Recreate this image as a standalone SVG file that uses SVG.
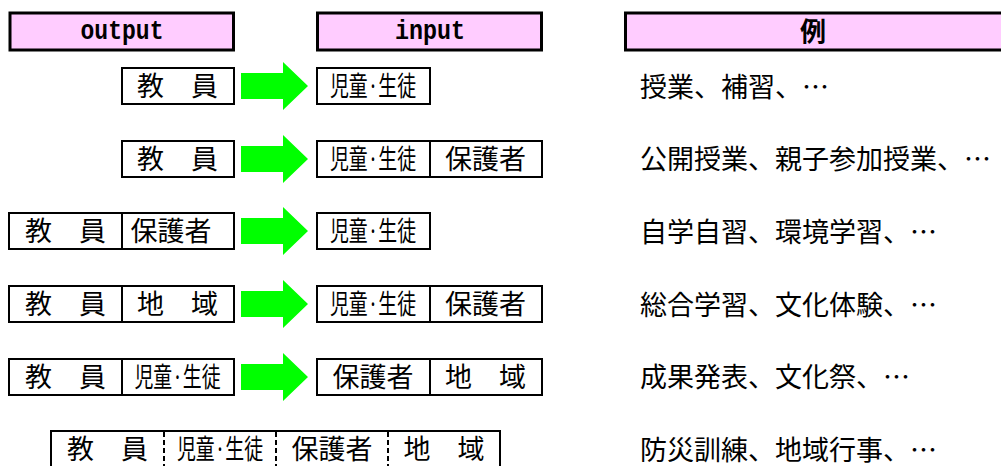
<svg xmlns="http://www.w3.org/2000/svg" xmlns:xlink="http://www.w3.org/1999/xlink" width="1001" height="466" viewBox="0 0 1001 466">
<style>
.hdr{fill:#ffccff;stroke:#000;stroke-width:3}
.box{fill:#fff;stroke:#000;stroke-width:2}
.dv{stroke:#000;stroke-width:2}
.dash{stroke:#000;stroke-width:2;stroke-dasharray:5 3}
.arr{fill:#00ff00}
.t{font-family:"Noto Sans CJK JP","Noto Sans CJK SC",sans-serif;font-size:27px;fill:#000}
.c{text-anchor:middle}
.h{font-family:"Liberation Mono","DejaVu Sans Mono",monospace;font-weight:bold;font-size:27px;text-anchor:middle;fill:#000}
.hb{font-family:"Noto Sans CJK JP",sans-serif;font-weight:bold;font-size:26px;text-anchor:middle;fill:#000}
</style>
<defs>
<path id="arrow" class="arr" d="M241,-13H283V-24L308,0L283,24V13H241Z"/>
</defs>
<rect width="1001" height="466" fill="#fff"/>

<g id="header-output"><rect class="hdr" x="10" y="13" width="223.5" height="37"/><text class="h" x="122" y="39" textLength="83" lengthAdjust="spacingAndGlyphs">output</text></g>
<g id="header-input"><rect class="hdr" x="317.5" y="13" width="224" height="37"/><text class="h" x="430" y="39" textLength="70" lengthAdjust="spacingAndGlyphs">input</text></g>
<g id="header-example"><rect class="hdr" x="625.5" y="13" width="380" height="37"/><text class="hb" x="813" y="41">例</text></g>

<g id="connectors">
<use xlink:href="#arrow" href="#arrow" y="86"/>
<use xlink:href="#arrow" href="#arrow" y="159"/>
<use xlink:href="#arrow" href="#arrow" y="231"/>
<use xlink:href="#arrow" href="#arrow" y="304"/>
<use xlink:href="#arrow" href="#arrow" y="377"/>
</g>

<!-- Row 1 -->
<g id="r1-out"><rect class="box" x="122" y="68" width="112" height="36"/><text class="t c" x="177.5" y="96">教　員</text></g>
<g id="r1-in"><rect class="box" x="317" y="68" width="113" height="36"/><text class="t c" transform="translate(373,96) scale(0.7,1)">児童·生徒</text></g>
<g id="r1-ex"><text class="t" x="640" y="97">授業、補習、…</text></g>

<!-- Row 2 -->
<g id="r2-out"><rect class="box" x="122" y="141" width="112" height="36"/><text class="t c" x="177.5" y="169">教　員</text></g>
<g id="r2-in"><rect class="box" x="317" y="141" width="225" height="36"/><line class="dv" x1="430" y1="141" x2="430" y2="177"/><text class="t c" transform="translate(373,169) scale(0.7,1)">児童·生徒</text><text class="t c" x="485.5" y="169">保護者</text></g>
<g id="r2-ex"><text class="t" x="640" y="169">公開授業、親子参加授業、…</text></g>

<!-- Row 3 -->
<g id="r3-out"><rect class="box" x="9" y="213" width="225" height="36"/><line class="dv" x1="122" y1="213" x2="122" y2="249"/><text class="t c" x="65.5" y="241">教　員</text><text class="t c" x="171" y="241">保護者</text></g>
<g id="r3-in"><rect class="box" x="317" y="213" width="113" height="36"/><text class="t c" transform="translate(373,241) scale(0.7,1)">児童·生徒</text></g>
<g id="r3-ex"><text class="t" x="640" y="242">自学自習、環境学習、…</text></g>

<!-- Row 4 -->
<g id="r4-out"><rect class="box" x="9" y="286" width="225" height="36"/><line class="dv" x1="122" y1="286" x2="122" y2="322"/><text class="t c" x="65.5" y="314">教　員</text><text class="t c" x="177.5" y="314">地　域</text></g>
<g id="r4-in"><rect class="box" x="317" y="286" width="225" height="36"/><line class="dv" x1="430" y1="286" x2="430" y2="322"/><text class="t c" transform="translate(373,314) scale(0.7,1)">児童·生徒</text><text class="t c" x="485.5" y="314">保護者</text></g>
<g id="r4-ex"><text class="t" x="640" y="315">総合学習、文化体験、…</text></g>

<!-- Row 5 -->
<g id="r5-out"><rect class="box" x="9" y="359" width="225" height="36"/><line class="dv" x1="122" y1="359" x2="122" y2="395"/><text class="t c" x="65.5" y="387">教　員</text><text class="t c" transform="translate(177.5,387) scale(0.7,1)">児童·生徒</text></g>
<g id="r5-in"><rect class="box" x="317" y="359" width="225" height="36"/><line class="dv" x1="430" y1="359" x2="430" y2="395"/><text class="t c" x="373" y="387">保護者</text><text class="t c" x="485.5" y="387">地　域</text></g>
<g id="r5-ex"><text class="t" x="640" y="387">成果発表、文化祭、…</text></g>

<!-- Row 6 -->
<g id="r6-all"><rect class="box" x="51" y="431" width="449" height="36"/>
<line class="dash" x1="164" y1="432" x2="164" y2="467"/>
<line class="dash" x1="276" y1="432" x2="276" y2="467"/>
<line class="dash" x1="388" y1="432" x2="388" y2="467"/>
<text class="t c" x="107.5" y="459">教　員</text>
<text class="t c" transform="translate(220,459) scale(0.7,1)">児童·生徒</text>
<text class="t c" x="332" y="459">保護者</text>
<text class="t c" x="444" y="459">地　域</text></g>
<g id="r6-ex"><text class="t" x="640" y="460">防災訓練、地域行事、…</text></g>
</svg>
